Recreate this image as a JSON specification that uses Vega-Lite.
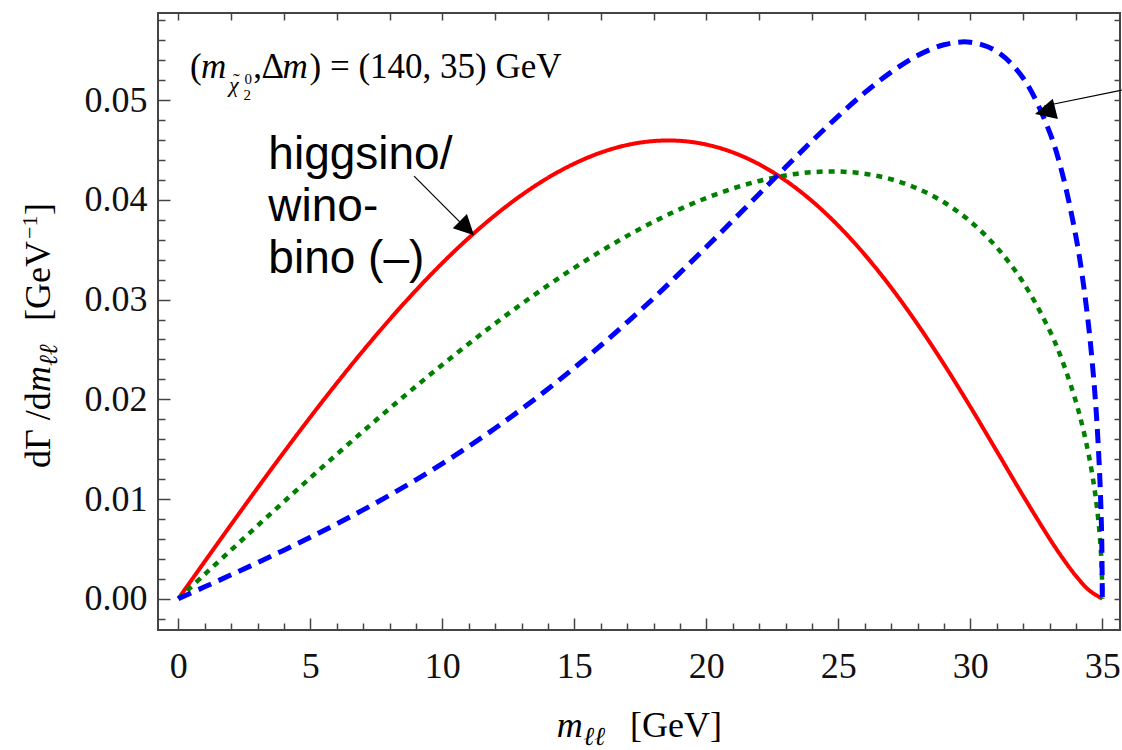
{
  "$schema": "https://vega.github.io/schema/vega-lite/v6.json",
  "width": 962,
  "height": 617,
  "autosize": {"type": "none"},
  "padding": {"left": 158, "top": 13, "right": 2, "bottom": 120},
  "background": "white",
  "config": {
    "view": {"stroke": "#444", "strokeWidth": 2},
    "axis": {
      "grid": false,
      "domain": false,
      "labelFont": "Liberation Serif",
      "labelFontSize": 36,
      "labelColor": "#111",
      "tickColor": "#444",
      "tickWidth": 1.5
    }
  },
  "datasets": {
    "curves": [
      {"series": "minus", "m": 0, "rate": 0},
      {"series": "minus", "m": 1, "rate": 0.003731},
      {"series": "minus", "m": 2, "rate": 0.007439},
      {"series": "minus", "m": 3, "rate": 0.011103},
      {"series": "minus", "m": 4, "rate": 0.014702},
      {"series": "minus", "m": 5, "rate": 0.018212},
      {"series": "minus", "m": 6, "rate": 0.021612},
      {"series": "minus", "m": 7, "rate": 0.024879},
      {"series": "minus", "m": 8, "rate": 0.027992},
      {"series": "minus", "m": 9, "rate": 0.03093},
      {"series": "minus", "m": 10, "rate": 0.033669},
      {"series": "minus", "m": 11, "rate": 0.036188},
      {"series": "minus", "m": 12, "rate": 0.038467},
      {"series": "minus", "m": 13, "rate": 0.040482},
      {"series": "minus", "m": 14, "rate": 0.042215},
      {"series": "minus", "m": 15, "rate": 0.043643},
      {"series": "minus", "m": 16, "rate": 0.044747},
      {"series": "minus", "m": 17, "rate": 0.045507},
      {"series": "minus", "m": 18, "rate": 0.045907},
      {"series": "minus", "m": 19, "rate": 0.045927},
      {"series": "minus", "m": 20, "rate": 0.045554},
      {"series": "minus", "m": 21, "rate": 0.044773},
      {"series": "minus", "m": 22, "rate": 0.043574},
      {"series": "minus", "m": 23, "rate": 0.04195},
      {"series": "minus", "m": 24, "rate": 0.039896},
      {"series": "minus", "m": 25, "rate": 0.037414},
      {"series": "minus", "m": 26, "rate": 0.034513},
      {"series": "minus", "m": 27, "rate": 0.031209},
      {"series": "minus", "m": 28, "rate": 0.027531},
      {"series": "minus", "m": 29, "rate": 0.023524},
      {"series": "minus", "m": 30, "rate": 0.019251},
      {"series": "minus", "m": 31, "rate": 0.014806},
      {"series": "minus", "m": 32, "rate": 0.010329},
      {"series": "minus", "m": 33, "rate": 0.006036},
      {"series": "minus", "m": 33.5, "rate": 0.004061},
      {"series": "minus", "m": 34, "rate": 0.00229},
      {"series": "minus", "m": 34.5, "rate": 0.000838},
      {"series": "minus", "m": 35, "rate": 0},

      {"series": "flat", "m": 0, "rate": 0},
      {"series": "flat", "m": 1, "rate": 0.002448},
      {"series": "flat", "m": 2, "rate": 0.00489},
      {"series": "flat", "m": 3, "rate": 0.00732},
      {"series": "flat", "m": 4, "rate": 0.009732},
      {"series": "flat", "m": 5, "rate": 0.012119},
      {"series": "flat", "m": 6, "rate": 0.014477},
      {"series": "flat", "m": 7, "rate": 0.016797},
      {"series": "flat", "m": 8, "rate": 0.019073},
      {"series": "flat", "m": 9, "rate": 0.0213},
      {"series": "flat", "m": 10, "rate": 0.023469},
      {"series": "flat", "m": 11, "rate": 0.025573},
      {"series": "flat", "m": 12, "rate": 0.027607},
      {"series": "flat", "m": 13, "rate": 0.029559},
      {"series": "flat", "m": 14, "rate": 0.031423},
      {"series": "flat", "m": 15, "rate": 0.03319},
      {"series": "flat", "m": 16, "rate": 0.03485},
      {"series": "flat", "m": 17, "rate": 0.036392},
      {"series": "flat", "m": 18, "rate": 0.037806},
      {"series": "flat", "m": 19, "rate": 0.039078},
      {"series": "flat", "m": 20, "rate": 0.040195},
      {"series": "flat", "m": 21, "rate": 0.041143},
      {"series": "flat", "m": 22, "rate": 0.041903},
      {"series": "flat", "m": 23, "rate": 0.042458},
      {"series": "flat", "m": 24, "rate": 0.04278},
      {"series": "flat", "m": 25, "rate": 0.042848},
      {"series": "flat", "m": 26, "rate": 0.042627},
      {"series": "flat", "m": 27, "rate": 0.042075},
      {"series": "flat", "m": 28, "rate": 0.041143},
      {"series": "flat", "m": 29, "rate": 0.039763},
      {"series": "flat", "m": 30, "rate": 0.037843},
      {"series": "flat", "m": 31, "rate": 0.035244},
      {"series": "flat", "m": 32, "rate": 0.031743},
      {"series": "flat", "m": 33, "rate": 0.026928},
      {"series": "flat", "m": 33.5, "rate": 0.023761},
      {"series": "flat", "m": 34, "rate": 0.019761},
      {"series": "flat", "m": 34.25, "rate": 0.017272},
      {"series": "flat", "m": 34.5, "rate": 0.014231},
      {"series": "flat", "m": 34.7, "rate": 0.011102},
      {"series": "flat", "m": 34.8, "rate": 0.009098},
      {"series": "flat", "m": 34.9, "rate": 0.006456},
      {"series": "flat", "m": 34.95, "rate": 0.004574},
      {"series": "flat", "m": 34.98, "rate": 0.002896},
      {"series": "flat", "m": 35, "rate": 0},

      {"series": "plus", "m": 0, "rate": 0},
      {"series": "plus", "m": 1, "rate": 0.001192},
      {"series": "plus", "m": 2, "rate": 0.002394},
      {"series": "plus", "m": 3, "rate": 0.003616},
      {"series": "plus", "m": 4, "rate": 0.004869},
      {"series": "plus", "m": 5, "rate": 0.006162},
      {"series": "plus", "m": 6, "rate": 0.007505},
      {"series": "plus", "m": 7, "rate": 0.008908},
      {"series": "plus", "m": 8, "rate": 0.010378},
      {"series": "plus", "m": 9, "rate": 0.011926},
      {"series": "plus", "m": 10, "rate": 0.013556},
      {"series": "plus", "m": 11, "rate": 0.015277},
      {"series": "plus", "m": 12, "rate": 0.017095},
      {"series": "plus", "m": 13, "rate": 0.019013},
      {"series": "plus", "m": 14, "rate": 0.021035},
      {"series": "plus", "m": 15, "rate": 0.023164},
      {"series": "plus", "m": 16, "rate": 0.025397},
      {"series": "plus", "m": 17, "rate": 0.027732},
      {"series": "plus", "m": 18, "rate": 0.030134},
      {"series": "plus", "m": 19, "rate": 0.032683},
      {"series": "plus", "m": 20, "rate": 0.035275},
      {"series": "plus", "m": 21, "rate": 0.037922},
      {"series": "plus", "m": 22, "rate": 0.040598},
      {"series": "plus", "m": 23, "rate": 0.043271},
      {"series": "plus", "m": 24, "rate": 0.045894},
      {"series": "plus", "m": 25, "rate": 0.048414},
      {"series": "plus", "m": 26, "rate": 0.050756},
      {"series": "plus", "m": 27, "rate": 0.05282},
      {"series": "plus", "m": 28, "rate": 0.054481},
      {"series": "plus", "m": 29, "rate": 0.055562},
      {"series": "plus", "m": 30, "rate": 0.055821},
      {"series": "plus", "m": 31, "rate": 0.054899},
      {"series": "plus", "m": 32, "rate": 0.052235},
      {"series": "plus", "m": 33, "rate": 0.046827},
      {"series": "plus", "m": 33.5, "rate": 0.042481},
      {"series": "plus", "m": 34, "rate": 0.036327},
      {"series": "plus", "m": 34.25, "rate": 0.032196},
      {"series": "plus", "m": 34.5, "rate": 0.026901},
      {"series": "plus", "m": 34.7, "rate": 0.021221},
      {"series": "plus", "m": 34.8, "rate": 0.017488},
      {"series": "plus", "m": 34.9, "rate": 0.012479},
      {"series": "plus", "m": 34.95, "rate": 0.008864},
      {"series": "plus", "m": 34.98, "rate": 0.005625},
      {"series": "plus", "m": 35, "rate": 0}
    ]
  },
  "layer": [
    {
      "data": {"name": "curves"},
      "mark": {"type": "line", "interpolate": "catmull-rom", "strokeCap": "butt"},
      "encoding": {
        "x": {
          "field": "m", "type": "quantitative",
          "scale": {"domain": [-0.77, 35.67], "nice": false, "zero": false},
          "axis": {"orient": "bottom", "values": [0, 5, 10, 15, 20, 25, 30, 35], "tickSize": -12, "labelPadding": 31, "title": null}
        },
        "y": {
          "field": "rate", "type": "quantitative",
          "scale": {"domain": [-0.00314, 0.05875], "nice": false, "zero": false},
          "axis": {"orient": "left", "values": [0, 0.01, 0.02, 0.03, 0.04, 0.05], "format": ".2f", "tickSize": -12, "labelPadding": 23, "title": null}
        },
        "color": {
          "field": "series", "type": "nominal",
          "scale": {"domain": ["minus", "flat", "plus"], "range": ["#ff0000", "#008000", "#0000ff"]},
          "legend": null
        },
        "strokeDash": {
          "field": "series", "type": "nominal",
          "scale": {"domain": ["minus", "flat", "plus"], "range": [[1, 0], [6, 6], [14, 8]]},
          "legend": null
        },
        "strokeWidth": {
          "field": "series", "type": "nominal",
          "scale": {"domain": ["minus", "flat", "plus"], "range": [4, 5, 5]},
          "legend": null
        }
      }
    },
    {
      "data": {"name": "curves"},
      "mark": {"type": "point", "opacity": 0},
      "encoding": {
        "x": {
          "field": "m", "type": "quantitative",
          "axis": {"orient": "bottom", "values": [1, 2, 3, 4, 6, 7, 8, 9, 11, 12, 13, 14, 16, 17, 18, 19, 21, 22, 23, 24, 26, 27, 28, 29, 31, 32, 33, 34], "tickSize": -7, "labels": false, "title": null}
        },
        "y": {
          "field": "rate", "type": "quantitative",
          "axis": {"orient": "left", "values": [-0.002, 0.002, 0.004, 0.006, 0.008, 0.012, 0.014, 0.016, 0.018, 0.022, 0.024, 0.026, 0.028, 0.032, 0.034, 0.036, 0.038, 0.042, 0.044, 0.046, 0.048, 0.052, 0.054, 0.056, 0.058], "tickSize": -7, "labels": false, "title": null}
        }
      }
    },
    {
      "data": {"name": "curves"},
      "mark": {"type": "point", "opacity": 0},
      "encoding": {
        "x": {
          "field": "m", "type": "quantitative",
          "axis": {"orient": "top", "values": [0, 2, 4, 6, 8, 10, 12, 14, 16, 18, 20, 22, 24, 26, 28, 30, 32, 34], "tickSize": -7, "labels": false, "title": null}
        },
        "y": {
          "field": "rate", "type": "quantitative",
          "axis": {"orient": "right", "values": [-0.002, 0, 0.002, 0.004, 0.006, 0.008, 0.01, 0.012, 0.014, 0.016, 0.018, 0.02, 0.022, 0.024, 0.026, 0.028, 0.03, 0.032, 0.034, 0.036, 0.038, 0.04, 0.042, 0.044, 0.046, 0.048, 0.05, 0.052, 0.054, 0.056, 0.058], "tickSize": -6, "labels": false, "title": null}
        }
      }
    },
    {
      "data": {"values": [{}]},
      "mark": {"type": "text", "text": "(", "font": "Liberation Serif", "fontSize": 35, "align": "left", "baseline": "alphabetic", "color": "black"},
      "encoding": {"x": {"datum": 0.443, "type": "quantitative", "axis": null}, "y": {"datum": 0.05223, "type": "quantitative", "axis": null}}
    },
    {
      "data": {"values": [{}]},
      "mark": {"type": "text", "text": "m", "font": "Liberation Serif", "fontStyle": "italic", "fontSize": 35, "align": "left", "baseline": "alphabetic", "color": "black"},
      "encoding": {"x": {"datum": 0.86, "type": "quantitative", "axis": null}, "y": {"datum": 0.05223, "type": "quantitative", "axis": null}}
    },
    {
      "data": {"values": [{}]},
      "mark": {"type": "text", "text": "χ", "font": "Liberation Serif", "fontStyle": "italic", "fontSize": 22, "align": "left", "baseline": "alphabetic", "color": "black"},
      "encoding": {"x": {"datum": 1.92, "type": "quantitative", "axis": null}, "y": {"datum": 0.05082, "type": "quantitative", "axis": null}}
    },
    {
      "data": {"values": [{}]},
      "mark": {"type": "text", "text": "˜", "font": "Liberation Serif", "fontSize": 20, "align": "left", "baseline": "alphabetic", "color": "black"},
      "encoding": {"x": {"datum": 2.07, "type": "quantitative", "axis": null}, "y": {"datum": 0.0512, "type": "quantitative", "axis": null}}
    },
    {
      "data": {"values": [{}]},
      "mark": {"type": "text", "text": "0", "font": "Liberation Serif", "fontSize": 15, "align": "left", "baseline": "alphabetic", "color": "black"},
      "encoding": {"x": {"datum": 2.51, "type": "quantitative", "axis": null}, "y": {"datum": 0.05162, "type": "quantitative", "axis": null}}
    },
    {
      "data": {"values": [{}]},
      "mark": {"type": "text", "text": "2", "font": "Liberation Serif", "fontSize": 15, "align": "left", "baseline": "alphabetic", "color": "black"},
      "encoding": {"x": {"datum": 2.47, "type": "quantitative", "axis": null}, "y": {"datum": 0.05002, "type": "quantitative", "axis": null}}
    },
    {
      "data": {"values": [{}]},
      "mark": {"type": "text", "text": ",", "font": "Liberation Serif", "fontSize": 35, "align": "left", "baseline": "alphabetic", "color": "black"},
      "encoding": {"x": {"datum": 2.84, "type": "quantitative", "axis": null}, "y": {"datum": 0.05223, "type": "quantitative", "axis": null}}
    },
    {
      "data": {"values": [{}]},
      "mark": {"type": "text", "text": "Δ", "font": "Liberation Serif", "fontSize": 35, "align": "left", "baseline": "alphabetic", "color": "black"},
      "encoding": {"x": {"datum": 3.15, "type": "quantitative", "axis": null}, "y": {"datum": 0.05223, "type": "quantitative", "axis": null}}
    },
    {
      "data": {"values": [{}]},
      "mark": {"type": "text", "text": "m", "font": "Liberation Serif", "fontStyle": "italic", "fontSize": 35, "align": "left", "baseline": "alphabetic", "color": "black"},
      "encoding": {"x": {"datum": 3.95, "type": "quantitative", "axis": null}, "y": {"datum": 0.05223, "type": "quantitative", "axis": null}}
    },
    {
      "data": {"values": [{}]},
      "mark": {"type": "text", "text": ") = (140, 35) GeV", "font": "Liberation Serif", "fontSize": 35, "align": "left", "baseline": "alphabetic", "color": "black"},
      "encoding": {"x": {"datum": 4.97, "type": "quantitative", "axis": null}, "y": {"datum": 0.05223, "type": "quantitative", "axis": null}}
    },
    {
      "data": {"values": [{}]},
      "mark": {"type": "text", "text": ["higgsino/", "wino-", "bino (–)"], "font": "Liberation Sans", "fontSize": 46, "lineHeight": 52, "align": "left", "baseline": "alphabetic", "color": "black"},
      "encoding": {"x": {"datum": 3.41, "type": "quantitative", "axis": null}, "y": {"datum": 0.0431, "type": "quantitative", "axis": null}}
    },
    {
      "data": {"values": [{}]},
      "mark": {"type": "rule", "color": "black", "strokeWidth": 1.2},
      "encoding": {
        "x": {"datum": 8.93, "type": "quantitative", "axis": null}, "y": {"datum": 0.04238, "type": "quantitative", "axis": null},
        "x2": {"datum": 11.0}, "y2": {"datum": 0.0369}
      }
    },
    {
      "data": {"values": [{}]},
      "mark": {"type": "point", "shape": "M0,0L-0.5,1L0.5,1Z", "size": 1600, "angle": 135, "filled": true, "color": "black", "opacity": 1, "strokeWidth": 0},
      "encoding": {"x": {"datum": 11.2, "type": "quantitative", "axis": null}, "y": {"datum": 0.03646, "type": "quantitative", "axis": null}}
    },
    {
      "data": {"values": [{}]},
      "mark": {"type": "rule", "color": "black", "strokeWidth": 1.2},
      "encoding": {
        "x": {"datum": 35.74, "type": "quantitative", "axis": null}, "y": {"datum": 0.05102, "type": "quantitative", "axis": null},
        "x2": {"datum": 32.8}, "y2": {"datum": 0.04942}
      }
    },
    {
      "data": {"values": [{}]},
      "mark": {"type": "point", "shape": "M0,0L-0.5,1L0.5,1Z", "size": 1764, "angle": 256, "filled": true, "color": "black", "opacity": 1, "strokeWidth": 0},
      "encoding": {"x": {"datum": 32.45, "type": "quantitative", "axis": null}, "y": {"datum": 0.04862, "type": "quantitative", "axis": null}}
    },
    {
      "data": {"values": [{}]},
      "mark": {"type": "text", "text": "m", "font": "Liberation Serif", "fontStyle": "italic", "fontSize": 36, "align": "left", "baseline": "alphabetic", "color": "black"},
      "encoding": {"x": {"datum": 14.33, "type": "quantitative", "axis": null}, "y": {"datum": -0.01387, "type": "quantitative", "axis": null}}
    },
    {
      "data": {"values": [{}]},
      "mark": {"type": "text", "text": "ℓℓ", "font": "Liberation Serif", "fontStyle": "italic", "fontSize": 26, "align": "left", "baseline": "alphabetic", "color": "black"},
      "encoding": {"x": {"datum": 15.34, "type": "quantitative", "axis": null}, "y": {"datum": -0.01467, "type": "quantitative", "axis": null}}
    },
    {
      "data": {"values": [{}]},
      "mark": {"type": "text", "text": "[GeV]", "font": "Liberation Serif", "fontSize": 36, "align": "left", "baseline": "alphabetic", "color": "black"},
      "encoding": {"x": {"datum": 17.11, "type": "quantitative", "axis": null}, "y": {"datum": -0.01387, "type": "quantitative", "axis": null}}
    },
    {
      "data": {"values": [{}]},
      "mark": {"type": "text", "text": "dΓ /d", "font": "Liberation Serif", "fontSize": 36, "angle": 270, "align": "left", "baseline": "alphabetic", "color": "black"},
      "encoding": {"x": {"datum": -4.86, "type": "quantitative", "axis": null}, "y": {"datum": 0.01311, "type": "quantitative", "axis": null}}
    },
    {
      "data": {"values": [{}]},
      "mark": {"type": "text", "text": "m", "font": "Liberation Serif", "fontStyle": "italic", "fontSize": 36, "angle": 270, "align": "left", "baseline": "alphabetic", "color": "black"},
      "encoding": {"x": {"datum": -4.86, "type": "quantitative", "axis": null}, "y": {"datum": 0.02073, "type": "quantitative", "axis": null}}
    },
    {
      "data": {"values": [{}]},
      "mark": {"type": "text", "text": "ℓℓ", "font": "Liberation Serif", "fontStyle": "italic", "fontSize": 26, "angle": 270, "align": "left", "baseline": "alphabetic", "color": "black"},
      "encoding": {"x": {"datum": -4.6, "type": "quantitative", "axis": null}, "y": {"datum": 0.02334, "type": "quantitative", "axis": null}}
    },
    {
      "data": {"values": [{}]},
      "mark": {"type": "text", "text": "[GeV", "font": "Liberation Serif", "fontSize": 36, "angle": 270, "align": "left", "baseline": "alphabetic", "color": "black"},
      "encoding": {"x": {"datum": -4.86, "type": "quantitative", "axis": null}, "y": {"datum": 0.02786, "type": "quantitative", "axis": null}}
    },
    {
      "data": {"values": [{}]},
      "mark": {"type": "text", "text": "−1", "font": "Liberation Serif", "fontSize": 22, "angle": 270, "align": "left", "baseline": "alphabetic", "color": "black"},
      "encoding": {"x": {"datum": -5.35, "type": "quantitative", "axis": null}, "y": {"datum": 0.03608, "type": "quantitative", "axis": null}}
    },
    {
      "data": {"values": [{}]},
      "mark": {"type": "text", "text": "]", "font": "Liberation Serif", "fontSize": 36, "angle": 270, "align": "left", "baseline": "alphabetic", "color": "black"},
      "encoding": {"x": {"datum": -4.86, "type": "quantitative", "axis": null}, "y": {"datum": 0.03849, "type": "quantitative", "axis": null}}
    }
  ],
  "resolve": {"axis": {"x": "independent", "y": "independent"}}
}
